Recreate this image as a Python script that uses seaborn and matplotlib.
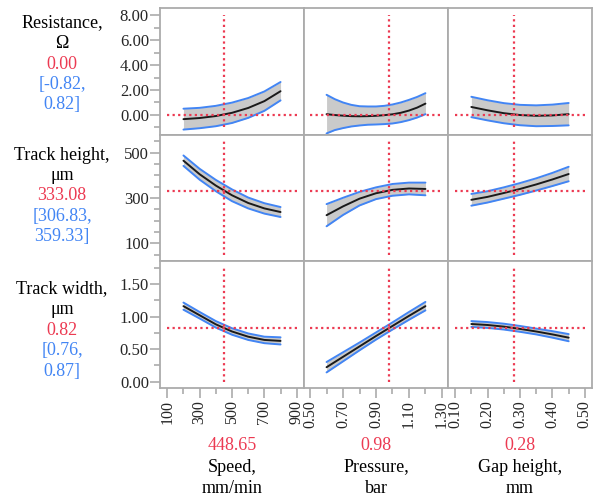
import numpy as np
import pandas as pd
import matplotlib
matplotlib.use('Agg')
import matplotlib.pyplot as plt
import seaborn as sns

# factor grids (x) for each column
speed = [200, 300, 400, 500, 600, 700, 800]
pressure = [0.6, 0.7, 0.8, 0.9, 1.0, 1.1, 1.2]
pressure_fine = [0.60, 0.65, 0.70, 0.75, 0.80, 0.85, 0.90, 0.95, 1.00, 1.05, 1.10, 1.15, 1.20]
gap = [0.15, 0.20, 0.25, 0.30, 0.35, 0.40, 0.45]

# Resistance profiles (mean, lower, upper)
res_speed = [-0.35, -0.26, -0.10, 0.16, 0.55, 1.10, 1.90]
res_speed_lo = [-1.19, -1.08, -0.92, -0.66, -0.25, 0.32, 1.16]
res_speed_hi = [0.49, 0.56, 0.72, 0.98, 1.35, 1.88, 2.64]
res_press = [0.05, -0.02, -0.07, -0.11, -0.12, -0.11, -0.08, -0.03, 0.04, 0.16, 0.34, 0.58, 0.90]
res_press_lo = [-1.50, -1.23, -1.07, -0.94, -0.86, -0.80, -0.78, -0.75, -0.70, -0.59, -0.43, -0.22, 0.05]
res_press_hi = [1.61, 1.26, 0.99, 0.80, 0.69, 0.67, 0.67, 0.72, 0.83, 0.99, 1.20, 1.44, 1.74]
res_gap = [0.63, 0.36, 0.13, -0.02, -0.08, -0.05, 0.05]
res_gap_lo = [-0.19, -0.45, -0.68, -0.84, -0.92, -0.90, -0.85]
res_gap_hi = [1.45, 1.17, 0.94, 0.80, 0.76, 0.82, 0.95]

# Track height profiles
th_speed = [465, 405, 355, 312, 278, 254, 238]
th_speed_lo = [442, 381, 330, 286, 254, 231, 216]
th_speed_hi = [488, 429, 380, 338, 302, 277, 260]
th_press = [224, 263, 297, 321, 336, 342, 340]
th_press_lo = [175, 225, 267, 295, 310, 316, 312]
th_press_hi = [273, 301, 327, 347, 362, 368, 368]
th_gap = [292, 305, 322, 340, 360, 382, 406]
th_gap_lo = [266, 280, 297, 314, 333, 353, 374]
th_gap_hi = [318, 330, 347, 366, 387, 411, 438]

# Track width profiles
tw_speed = [1.16, 1.02, 0.88, 0.77, 0.69, 0.64, 0.625]
tw_speed_lo = [1.105, 0.97, 0.83, 0.72, 0.64, 0.59, 0.57]
tw_speed_hi = [1.215, 1.07, 0.93, 0.82, 0.74, 0.69, 0.68]
tw_press = [0.22, 0.38, 0.54, 0.70, 0.855, 1.01, 1.16]
tw_press_lo = [0.14, 0.31, 0.48, 0.645, 0.80, 0.95, 1.095]
tw_press_hi = [0.30, 0.45, 0.60, 0.755, 0.91, 1.07, 1.225]
tw_gap = [0.885, 0.87, 0.845, 0.81, 0.77, 0.725, 0.675]
tw_gap_lo = [0.84, 0.825, 0.80, 0.765, 0.725, 0.675, 0.62]
tw_gap_hi = [0.93, 0.915, 0.89, 0.855, 0.815, 0.775, 0.73]

# current settings (crosshairs)
x_current = [448.65, 0.98, 0.28]
x_current_txt = ['448.65', '0.98', '0.28']
y_current = [0.00, 333.08, 0.82]
y_current_txt = ['0.00', '333.08', '0.82']
y_ci_txt = [['[-0.82,', '0.82]'], ['[306.83,', '359.33]'], ['[0.76,', '0.87]']]

x_names = [['Speed,', 'mm/min'], ['Pressure,', 'bar'], ['Gap height,', 'mm']]
y_names = [['Resistance,', 'Ω'], ['Track height,', 'μm'], ['Track width,', 'μm']]

# axis tick ranges
x_ticks = [np.arange(100, 901, 200), np.arange(0.5, 1.31, 0.2), np.arange(0.1, 0.51, 0.1)]
x_minor = [np.arange(100, 901, 100), np.arange(0.5, 1.31, 0.1), np.arange(0.1, 0.51, 0.05)]
x_fmt = ['{:.0f}', '{:.2f}', '{:.2f}']
y_ticks = [np.arange(0, 8.01, 2), np.arange(100, 501, 200), np.arange(0, 1.51, 0.5)]
y_minor = [np.arange(-1, 8.01, 1), np.arange(50, 551, 50), np.arange(0, 1.76, 0.25)]
y_fmt = ['{:.2f}', '{:.0f}', '{:.2f}']

profiles = [
    [(speed, res_speed, res_speed_lo, res_speed_hi),
     (pressure_fine, res_press, res_press_lo, res_press_hi),
     (gap, res_gap, res_gap_lo, res_gap_hi)],
    [(speed, th_speed, th_speed_lo, th_speed_hi),
     (pressure, th_press, th_press_lo, th_press_hi),
     (gap, th_gap, th_gap_lo, th_gap_hi)],
    [(speed, tw_speed, tw_speed_lo, tw_speed_hi),
     (pressure, tw_press, tw_press_lo, tw_press_hi),
     (gap, tw_gap, tw_gap_lo, tw_gap_hi)],
]

RED = '#ec3a52'
BLUE = '#4285f4'
FRAME = '#ababab'

sns.set_style('white')
plt.rcParams['font.family'] = ['Liberation Serif', 'DejaVu Serif']

W, H = 595, 498
fig, axes = plt.subplots(3, 3, figsize=(W / 100, H / 100), dpi=100, sharex='col', sharey='row')
fig.subplots_adjust(left=160 / W, right=592 / W, top=1 - 8 / H, bottom=1 - 388 / H, wspace=0, hspace=0)

for r in range(3):
    for c in range(3):
        ax = axes[r, c]
        x, mean, lo, hi = profiles[r][c]
        df = pd.DataFrame({'x': x, 'mean': mean, 'lo': lo, 'hi': hi})
        ax.fill_between(df['x'], df['lo'], df['hi'], color='#cacaca', lw=0, zorder=1)
        sns.lineplot(data=df, x='x', y='lo', ax=ax, color=BLUE, lw=1.4, zorder=2)
        sns.lineplot(data=df, x='x', y='hi', ax=ax, color=BLUE, lw=1.4, zorder=2)
        sns.lineplot(data=df, x='x', y='mean', ax=ax, color='#1a1a1a', lw=1.4, zorder=3)
        # crosshairs spanning the tick ranges
        ax.hlines(y_current[r], x_ticks[c][0], x_ticks[c][-1], color=RED, lw=1.6,
                  linestyle=(0, (1, 1.5)), zorder=4)
        ax.vlines(x_current[c], y_minor[r][0], y_minor[r][-1], color=RED, lw=1.6,
                  linestyle=(0, (1, 1.5)), zorder=4)
        ax.set_xlabel('')
        ax.set_ylabel('')
        for s in ax.spines.values():
            s.set_color(FRAME)
            s.set_linewidth(1.3)
        ax.tick_params(which='both', left=False, bottom=False, labelleft=False, labelbottom=False)

xlims = [(55, 945), (0.463, 1.337), (0.078, 0.522)]
ylims = [(-1.6, 8.6), (20, 580), (-0.1, 1.85)]

for c in range(3):
    ax = axes[2, c]
    ax.set_xlim(*xlims[c])
    ax.set_xticks(x_ticks[c])
    ax.set_xticks(x_minor[c], minor=True)
    ax.set_xticklabels([x_fmt[c].format(v) for v in x_ticks[c]], rotation=90, fontsize=11.5)
    ax.tick_params(axis='x', which='both', bottom=True, labelbottom=True, color=FRAME, width=1.2, pad=2)
    ax.tick_params(axis='x', which='major', length=7)
    ax.tick_params(axis='x', which='minor', length=4)

for r in range(3):
    ax = axes[r, 0]
    ax.set_ylim(*ylims[r])
    ax.set_yticks(y_ticks[r])
    ax.set_yticks(y_minor[r], minor=True)
    ax.set_yticklabels([y_fmt[r].format(v) for v in y_ticks[r]], fontsize=12)
    ax.tick_params(axis='y', which='both', left=True, labelleft=True, color=FRAME, width=1.2, pad=1)
    ax.tick_params(axis='y', which='major', length=7)
    ax.tick_params(axis='y', which='minor', length=4)

# response labels on the left
row_centers = [64, 196, 330]
for r in range(3):
    lines = [(y_names[r][0], 'black'), (y_names[r][1], 'black'), (y_current_txt[r], RED),
             (y_ci_txt[r][0], BLUE), (y_ci_txt[r][1], BLUE)]
    for i, (t, col) in enumerate(lines):
        yy = row_centers[r] + (i - 2) * 20.5
        fig.text(62 / W, 1 - yy / H, t, color=col, fontsize=13, ha='center', va='center')

# factor labels at the bottom
for c in range(3):
    pos = axes[2, c].get_position()
    xc = (pos.x0 + pos.x1) / 2
    fig.text(xc, 1 - 445 / H, x_current_txt[c], color=RED, fontsize=13, ha='center', va='center')
    fig.text(xc, 1 - 467 / H, x_names[c][0], color='black', fontsize=13, ha='center', va='center')
    fig.text(xc, 1 - 488 / H, x_names[c][1], color='black', fontsize=13, ha='center', va='center')

fig.savefig('out.png', dpi=100)
